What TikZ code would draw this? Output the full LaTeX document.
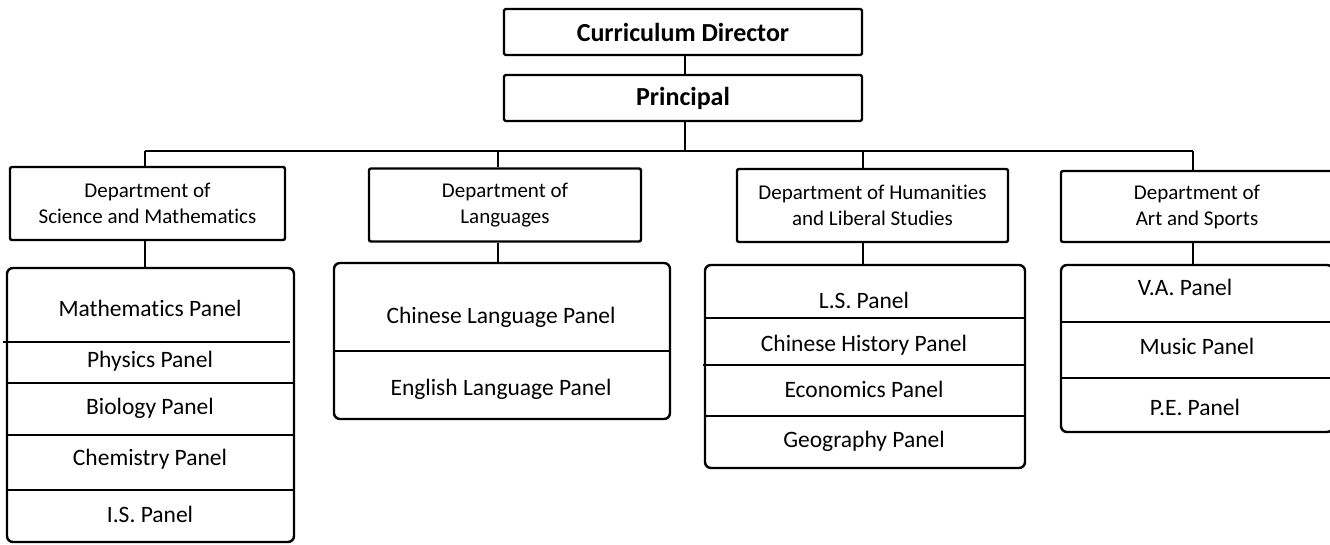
\documentclass[tikz,border=0pt]{standalone}
\usepackage{fontspec}
\setmainfont{Carlito}[Ligatures={NoCommon,NoRare,NoContextual}, RawFeature=-calt]
\newcommand\tix{t\kern0pt i}
\begin{document}
\begin{tikzpicture}[x=1pt,y=-1pt,
  ln/.style={line width=2.4pt},
  topbox/.style={draw, ln, rounded corners=1.5pt, minimum width=358pt, minimum height=46pt, inner sep=0pt,
     font=\bfseries\fontsize{26}{31}\selectfont},
  dept/.style={draw, ln, rounded corners=2pt, inner sep=0pt, align=center,
     font=\fontsize{21}{26}\selectfont},
  panel/.style={draw, ln, rounded corners=6pt, inner sep=0pt},
  ptext/.style={inner sep=0pt, font=\fontsize{23.5}{28}\selectfont}
]
\useasboundingbox (0,0) rectangle (1330,545);
% top
\node[topbox] (cd) at (683,32) {Curriculum Director};
\node[topbox] (pr) at (683,98) {Principal};
\coordinate (pb) at (685,151);
\draw[ln] (cd.south -| pb) -- (pr.north -| pb);
% bus
\coordinate (b1) at (145,151);
\coordinate (b2) at (498,151);
\coordinate (b3) at (863,151);
\coordinate (b4) at (1193,151);
\draw[ln] (pr.south -| pb) -- (pb);
\draw[ln] (b1) -- (b4);
% departments
\node[dept, minimum width=275pt, minimum height=73pt] (d1) at (147.5,203.5) {Department of\\Science and Mathema\tix cs};
\node[dept, minimum width=272pt, minimum height=73pt] (d2) at (505,205) {Department of\\Languages};
\node[dept, minimum width=271pt, minimum height=73pt] (d3) at (872.5,205.5) {Department of Humani\tix es\\and Liberal Studies};
\node[dept, minimum width=272pt, minimum height=71pt] (d4) at (1197,206.5) {Department of\\Art and Sports};
\draw[ln] (b1) -- (b1 |- d1.north);
\draw[ln] (b2) -- (b2 |- d2.north);
\draw[ln] (b3) -- (b3 |- d3.north);
\draw[ln] (b4) -- (b4 |- d4.north);
% panels
\node[panel, minimum width=287pt, minimum height=274pt] (p1) at (150.5,405) {};
\node[panel, minimum width=336pt, minimum height=156pt] (p2) at (502,341) {};
\node[panel, minimum width=320pt, minimum height=203pt] (p3) at (865,366.5) {};
\node[panel, minimum width=272pt, minimum height=167pt] (p4) at (1197,348.5) {};
\draw[ln] (b1 |- d1.south) -- (b1 |- p1.north);
\draw[ln] (b2 |- d2.south) -- (b2 |- p2.north);
\draw[ln] (b3 |- d3.south) -- (b3 |- p3.north);
\draw[ln] (b4 |- d4.south) -- (b4 |- p4.north);
% dividers
\draw[ln] (3,342) -- (290,342);
\draw[ln] (7,383) -- (294,383);
\draw[ln] (7,435) -- (294,435);
\draw[ln] (7,490) -- (294,490);
\draw[ln] (334,351) -- (670,351);
\draw[ln] (705,318) -- (1025,318);
\draw[ln] (703,365) -- (1025,365);
\draw[ln] (705,416) -- (1025,416);
\draw[ln] (1061,322) -- (1333,322);
\draw[ln] (1061,378) -- (1333,378);
% panel texts
\node[ptext] (t11) at (150,308) {Mathema\tix cs Panel};
\node[ptext] (t12) at (150,361) {Physics Panel};
\node[ptext] (t13) at (150,408) {Biology Panel};
\node[ptext] (t14) at (150,459) {Chemistry Panel};
\node[ptext] (t15) at (150,514) {I.S. Panel};
\node[ptext] (t21) at (501,317) {Chinese Language Panel};
\node[ptext] (t22) at (501,389) {English Language Panel};
\node[ptext] (t31) at (864,300) {L.S. Panel};
\node[ptext] (t32) at (864,345) {Chinese History Panel};
\node[ptext] (t33) at (864,389) {Economics Panel};
\node[ptext] (t34) at (864,441) {Geography Panel};
\node[ptext] (t41) at (1185,287) {V.A. Panel};
\node[ptext] (t42) at (1197,346) {Music Panel};
\node[ptext] (t43) at (1195,407) {P.E. Panel};
\end{tikzpicture}
\end{document}
